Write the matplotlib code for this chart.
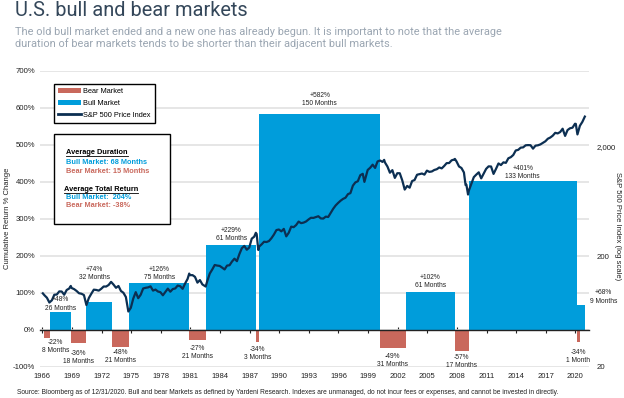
import matplotlib
matplotlib.use("Agg")
import matplotlib.pyplot as plt
from matplotlib.patches import Patch, Rectangle
from matplotlib.lines import Line2D

# ---------------- data ----------------
bear_start = ["1966-02", "1968-11", "1973-01", "1980-11", "1987-08", "2000-03", "2007-10", "2020-02"]
bear_end = ["1966-10", "1970-05", "1974-10", "1982-08", "1987-12", "2002-10", "2009-03", "2020-03"]
bear_return = [-22, -36, -48, -27, -34, -49, -57, -34]
bear_months = [8, 18, 21, 21, 3, 31, 17, 1]

bull_start = ["1966-10", "1970-05", "1974-10", "1982-08", "1987-12", "2002-10", "2009-03", "2020-03"]
bull_end = ["1968-11", "1973-01", "1980-11", "1987-08", "2000-03", "2007-10", "2020-02", "2020-12"]
bull_return = [48, 74, 126, 229, 582, 102, 401, 68]
bull_months = [26, 32, 75, 61, 150, 61, 133, 9]

sp_dates = [
    "1966-01", "1966-03", "1966-06", "1966-09", "1966-12", "1967-03", "1967-06", "1967-09", "1967-12",
    "1968-03", "1968-06", "1968-09", "1968-11", "1968-12", "1969-03", "1969-06", "1969-09", "1969-12",
    "1970-03", "1970-06", "1970-09", "1970-12", "1971-03", "1971-06", "1971-09", "1971-12",
    "1972-03", "1972-06", "1972-09", "1972-12", "1973-03", "1973-06", "1973-09", "1973-12",
    "1974-03", "1974-06", "1974-09", "1974-12", "1975-03", "1975-06", "1975-09", "1975-12",
    "1976-03", "1976-06", "1976-09", "1976-12", "1977-03", "1977-06", "1977-09", "1977-12",
    "1978-03", "1978-06", "1978-09", "1978-12", "1979-03", "1979-06", "1979-09", "1979-12",
    "1980-03", "1980-06", "1980-09", "1980-11", "1980-12", "1981-03", "1981-06", "1981-09", "1981-12",
    "1982-03", "1982-07", "1982-09", "1982-12", "1983-03", "1983-06", "1983-09", "1983-12",
    "1984-03", "1984-06", "1984-09", "1984-12", "1985-03", "1985-06", "1985-09", "1985-12",
    "1986-03", "1986-06", "1986-09", "1986-12", "1987-03", "1987-06", "1987-08", "1987-09", "1987-11", "1987-12",
    "1988-03", "1988-06", "1988-09", "1988-12", "1989-03", "1989-06", "1989-09", "1989-12",
    "1990-03", "1990-06", "1990-09", "1990-12", "1991-03", "1991-06", "1991-09", "1991-12",
    "1992-03", "1992-06", "1992-09", "1992-12", "1993-03", "1993-06", "1993-09", "1993-12",
    "1994-03", "1994-06", "1994-09", "1994-12", "1995-03", "1995-06", "1995-09", "1995-12",
    "1996-03", "1996-06", "1996-09", "1996-12", "1997-03", "1997-06", "1997-09", "1997-12",
    "1998-03", "1998-06", "1998-08", "1998-09", "1998-12", "1999-03", "1999-06", "1999-09", "1999-12",
    "2000-03", "2000-06", "2000-08", "2000-09", "2000-12", "2001-03", "2001-06", "2001-09", "2001-12",
    "2002-03", "2002-06", "2002-09", "2002-12", "2003-03", "2003-06", "2003-09", "2003-12",
    "2004-03", "2004-06", "2004-09", "2004-12", "2005-03", "2005-06", "2005-09", "2005-12",
    "2006-03", "2006-06", "2006-09", "2006-12", "2007-03", "2007-06", "2007-09", "2007-10", "2007-12",
    "2008-03", "2008-06", "2008-09", "2008-11", "2008-12", "2009-02", "2009-03", "2009-06", "2009-09", "2009-12",
    "2010-03", "2010-06", "2010-09", "2010-12", "2011-03", "2011-06", "2011-09", "2011-12",
    "2012-03", "2012-06", "2012-09", "2012-12", "2013-03", "2013-06", "2013-09", "2013-12",
    "2014-03", "2014-06", "2014-09", "2014-12", "2015-03", "2015-06", "2015-09", "2015-12",
    "2016-03", "2016-06", "2016-09", "2016-12", "2017-03", "2017-06", "2017-09", "2017-12",
    "2018-03", "2018-06", "2018-09", "2018-12", "2019-03", "2019-06", "2019-09", "2019-12",
    "2020-01", "2020-03", "2020-06", "2020-09", "2020-12",
]
sp_values = [
    92.9, 89.2, 84.7, 76.6, 80.3, 90.2, 90.6, 96.7, 96.5,
    90.2, 99.6, 102.7, 108.4, 103.9, 101.5, 97.7, 93.1, 92.1,
    89.6, 72.7, 84.3, 92.2, 100.3, 99.7, 98.3, 102.1,
    107.2, 107.1, 110.6, 118.1, 111.5, 104.3, 108.4, 97.6,
    94.0, 86.0, 63.5, 68.6, 83.4, 95.2, 83.9, 90.2,
    102.8, 104.3, 105.2, 107.5, 98.4, 100.5, 96.5, 95.1,
    89.2, 95.5, 102.5, 96.1, 101.6, 102.9, 109.3, 107.9,
    102.1, 114.2, 125.5, 140.5, 135.8, 136.0, 131.2, 116.2, 122.6,
    112.0, 107.1, 120.4, 140.6, 153.0, 168.1, 166.1, 164.9,
    159.2, 153.2, 166.1, 167.2, 180.7, 191.9, 182.1, 211.3,
    238.9, 250.8, 231.3, 242.2, 291.7, 304.0, 329.8, 321.8, 230.3, 247.1,
    258.9, 273.5, 271.9, 277.7, 294.9, 318.0, 349.2, 353.4,
    339.9, 358.0, 306.1, 330.2, 375.2, 371.2, 387.9, 417.1,
    403.7, 408.1, 417.8, 435.7, 451.7, 450.5, 458.9, 466.5,
    445.8, 444.3, 462.7, 459.3, 500.7, 544.8, 584.4, 615.9,
    645.5, 670.6, 687.3, 740.7, 757.1, 885.1, 947.3, 970.4,
    1101.8, 1133.8, 957.3, 1017.0, 1229.2, 1286.4, 1372.7, 1282.7, 1469.3,
    1498.6, 1454.6, 1517.7, 1436.5, 1320.3, 1160.3, 1224.4, 1040.9, 1148.1,
    1147.4, 989.8, 815.3, 879.8, 848.2, 974.5, 996.0, 1111.9,
    1126.2, 1140.8, 1114.6, 1211.9, 1180.6, 1191.3, 1228.8, 1248.3,
    1294.8, 1270.2, 1335.9, 1418.3, 1420.9, 1503.4, 1526.8, 1549.4, 1468.4,
    1322.7, 1280.0, 1166.4, 896.2, 903.3, 735.1, 797.9, 919.3, 1057.1, 1115.1,
    1169.4, 1030.7, 1141.2, 1257.6, 1325.8, 1320.6, 1131.4, 1257.6,
    1408.5, 1362.2, 1440.7, 1426.2, 1569.2, 1606.3, 1681.6, 1848.4,
    1872.3, 1960.2, 1972.3, 2058.9, 2067.9, 2063.1, 1920.0, 2043.9,
    2059.7, 2098.9, 2168.3, 2238.8, 2362.7, 2423.4, 2519.4, 2673.6,
    2640.9, 2718.4, 2914.0, 2506.9, 2834.4, 2941.8, 2976.7, 3230.8,
    3225.5, 2584.6, 3100.3, 3363.0, 3756.1,
]

year_ticks = list(range(1966, 2021, 3))
pct_ticks = list(range(-100, 701, 100))
log_ticks = [20, 200, 2000]
log_tick_labels = ["20", "200", "2,000"]

# ---------------- styles ----------------
BULL = "#009DDB"
BEAR = "#C9685C"
LINE = "#0C2F52"
GRID = "#E2E2E2"
TXT = "#222222"
FONT = "Liberation Sans"
plt.rcParams["font.family"] = [FONT, "DejaVu Sans"]


def to_year(s):
    y, m = s.split("-")
    return int(y) + (int(m) - 0.5) / 12.0


W, H = 624, 398
fig = plt.figure(figsize=(W / 100, H / 100), dpi=100)
ax = fig.add_axes([40 / W, (H - 366.7) / H, 549 / W, 296 / H])
ax.set_xlim(1965.757, 2021.38)
ax.set_ylim(-100, 700)


def ax_y(py):
    return 1 - (py - 70.7) / 296


def ax_x(px):
    return (px - 40) / 549


# gridlines
ax.set_yticks(pct_ticks)
ax.set_yticklabels([f"{v}%" for v in pct_ticks], fontsize=5.6, color=TXT)
ax.grid(axis="y", color=GRID, lw=1.2, zorder=0)
ax.set_axisbelow(True)
ax.tick_params(axis="y", length=0, pad=3.6)
for s in ["left", "right", "top"]:
    ax.spines[s].set_visible(False)
ax.spines["bottom"].set_position(("data", 0))
ax.spines["bottom"].set_color("#222222")
ax.spines["bottom"].set_linewidth(1.0)
ax.spines["bottom"].set_zorder(2.6)
ax.set_xticks(year_ticks)
ax.set_xticklabels([str(y) for y in year_ticks], fontsize=5.5, color=TXT)
ax.tick_params(axis="x", direction="inout", length=4, width=0.8, color="#222222", pad=29.5)
ax.set_ylabel("Cumulative Return % Change", fontsize=5.5, color=TXT)
ax.yaxis.set_label_coords(ax_x(11.5), ax_y(218))

# bars
bear_x0 = [to_year(s) for s in bear_start]
bear_w = [max(to_year(e) - to_year(s), 0.3) for s, e in zip(bear_start, bear_end)]
bull_x0 = [to_year(s) for s in bull_start]
bull_w = [to_year(e) - to_year(s) for s, e in zip(bull_start, bull_end)]
ax.bar(bear_x0, bear_return, width=bear_w, align="edge", color=BEAR, zorder=1, lw=0)
ax.bar(bull_x0, bull_return, width=bull_w, align="edge", color=BULL, zorder=1, lw=0)

# S&P line on log twin axis
ax2 = ax.twinx()
ax2.set_yscale("log")
ax2.set_ylim(20, 20 * 10 ** (800 / 297.3))
ax2.plot([to_year(d) for d in sp_dates], sp_values, color=LINE, lw=1.6, zorder=3,
         solid_joinstyle="round")
ax2.set_yticks(log_ticks)
ax2.set_yticklabels(log_tick_labels, fontsize=5.6, color=TXT)
ax2.yaxis.set_minor_locator(matplotlib.ticker.NullLocator())
ax2.tick_params(axis="y", length=0, pad=5.8)
for s in ax2.spines.values():
    s.set_visible(False)
ax2.set_ylabel("S&P 500 Price Index (log scale)", fontsize=5.5, color=TXT, rotation=270,
               va="center")
ax2.yaxis.set_label_coords(ax_x(617), ax_y(226))

# bar labels
bull_off = [(0, 0.3), (-3, 15), (0, 1.5), (0, 2), (0, 5), (0, 2), (0, 1), (16, 0)]
for x0, w, r, m, off in zip(bull_x0, bull_w, bull_return, bull_months, bull_off):
    ax2.annotate(f"+{r}%\n{m} Months", xy=(x0 + w / 2, r), xycoords=ax.transData,
                 xytext=off, textcoords="offset points", ha="center", va="bottom",
                 fontsize=4.8, color=TXT, linespacing=1.25, zorder=6)
bear_off = [(6, -0.5), (0, -5), (0, -1), (0, -3.5), (0, -2.5), (0, -3.5), (0, -2), (0, -4.5)]
for x0, w, r, m, off in zip(bear_x0, bear_w, bear_return, bear_months, bear_off):
    unit = "Month" if m == 1 else "Months"
    ax2.annotate(f"{r}%\n{m} {unit}", xy=(x0 + w / 2, r), xycoords=ax.transData,
                 xytext=off, textcoords="offset points", ha="center", va="top",
                 fontsize=4.8, color=TXT, linespacing=1.25, zorder=6)

# legend
handles = [Patch(facecolor=BEAR, edgecolor="none"), Patch(facecolor=BULL, edgecolor="none"),
           Line2D([], [], color=LINE, lw=2)]
leg = ax2.legend(handles, ["Bear Market", "Bull Market", "S&P 500 Price Index"],
                 loc="upper left", bbox_to_anchor=(ax_x(54), ax_y(84)),
                 borderaxespad=0, fontsize=5.3, frameon=True, fancybox=False,
                 handlelength=3.1, handleheight=0.7, handletextpad=0.3,
                 labelspacing=0.62, borderpad=0.55)
leg.get_frame().set_edgecolor("black")
leg.get_frame().set_linewidth(1.0)
leg.get_frame().set_alpha(1)
leg.set_zorder(8)

# info box
box = Rectangle((ax_x(54), ax_y(224)), ax_x(170) - ax_x(54), ax_y(134) - ax_y(224),
                transform=ax2.transAxes, facecolor="white", edgecolor="black", lw=1.0, zorder=7)
ax2.add_patch(box)
info = [
    ("Average Duration", "black", 66, 153, True),
    ("Bull Market: 68 Months", BULL, 66, 163, False),
    ("Bear Market: 15 Months", BEAR, 66, 171.7, False),
    ("Average Total Return", "black", 64, 190, True),
    ("Bull Market:  204%", BULL, 66, 197.7, False),
    ("Bear Market: -38%", BEAR, 66, 205.7, False),
]
underlined = []
for txt, col, px, py, ul in info:
    t = ax2.text(ax_x(px), ax_y(py), txt, transform=ax2.transAxes, fontsize=5.3,
                 fontweight="bold", color=col, va="center", ha="left", zorder=9)
    if ul:
        underlined.append(t)

# titles
fig.text(15 / W, 1 - 1 / H, "U.S. bull and bear markets", fontsize=14.4, color="#34475A",
         family=["Roboto", "DejaVu Sans"], va="top", ha="left")
fig.text(15 / W, 1 - 27 / H,
         "The old bull market ended and a new one has already begun. It is important to note that the average\n"
         "duration of bear markets tends to be shorter than their adjacent bull markets.",
         fontsize=7.95, color="#9BA6B2", family=["Roboto", "DejaVu Sans"], va="top", ha="left",
         linespacing=1.1)
fig.text(17 / W, 1 - 393 / H,
         "Source: Bloomberg as of 12/31/2020. Bull and bear Markets as defined by Yardeni Research. "
         "Indexes are unmanaged, do not incur fees or expenses, and cannot be invested in directly.",
         fontsize=4.75, color=TXT, va="center", ha="left")

# underline info headers
fig.canvas.draw()
r = fig.canvas.get_renderer()
inv = fig.transFigure.inverted()
for t in underlined:
    bb = t.get_window_extent(r)
    (x0, y0), (x1, y1) = inv.transform([(bb.x0, bb.y0 + 0.6), (bb.x1, bb.y0 + 0.6)])
    fig.add_artist(Line2D([x0, x1], [y0, y1], transform=fig.transFigure, color="black",
                          lw=0.6, zorder=10))

fig.savefig("out.png", dpi=100)
